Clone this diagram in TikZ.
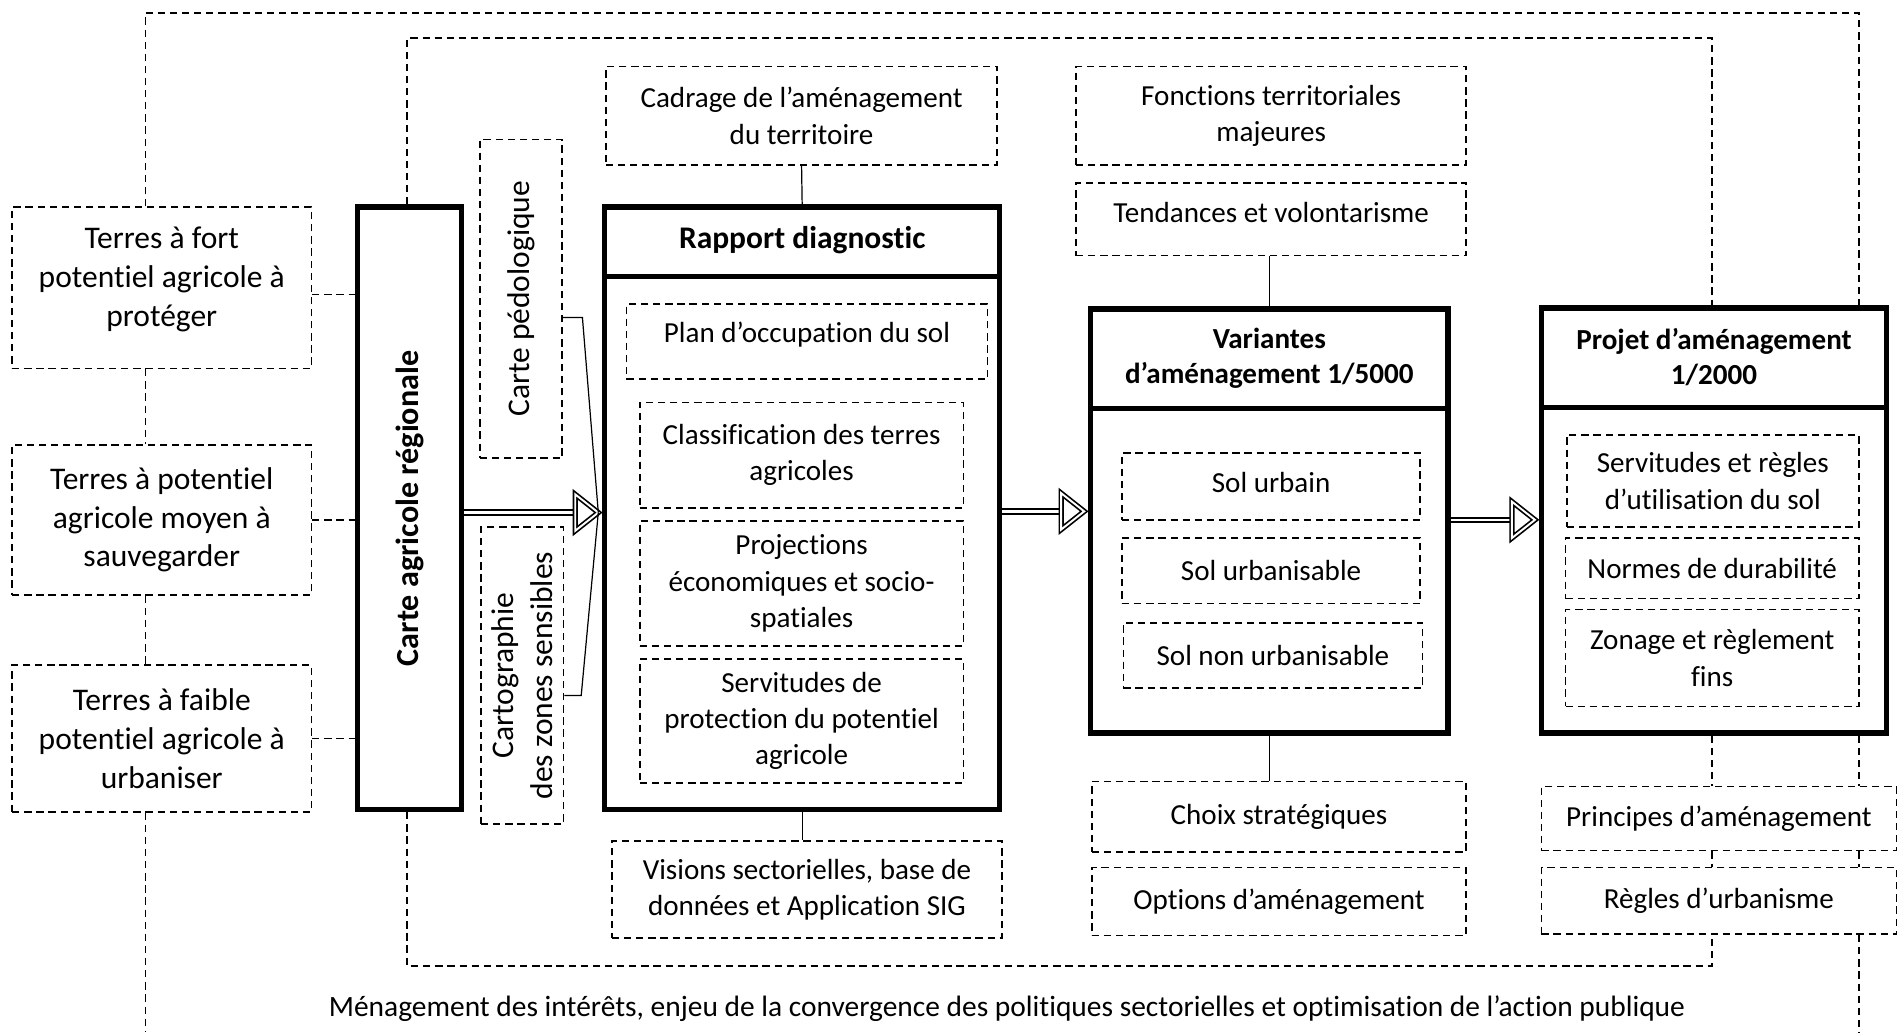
\documentclass[tikz,border=0pt]{standalone}
\usepackage{fontspec}
\setmainfont{Carlito}[Ligatures=NoCommon]
\usetikzlibrary{calc}
\begin{document}
\begin{tikzpicture}[x=1pt,y=-1pt,
  dbox/.style={draw, dash pattern=on 6pt off 4pt, line width=1.3pt, inner sep=0pt, align=center, font=\fontsize{24}{30}\selectfont},
  btext/.style={inner sep=0pt, align=center, font=\fontsize{24}{30}\selectfont},
  tbox/.style={draw, line width=4.5pt, inner sep=0pt},
  dline/.style={dash pattern=on 6pt off 4pt, line width=1.3pt},
  sline/.style={line width=1pt},
  divider/.style={line width=4pt},
  titletext/.style={align=center, inner sep=0pt, font=\fontsize{24}{29}\selectfont\bfseries},
  vtext/.style={align=center, inner sep=0pt, rotate=90, font=\fontsize{26}{32}\selectfont},
  shaft/.style={double, double distance=2.2pt, line width=1.6pt},
  ahead/.style={double, double distance=1.6pt, line width=1.4pt, line join=miter},
]
\fill[white] (0,0) rectangle (1568,852);
\useasboundingbox (0,0) rectangle (1568,852);

% left column
\node[dbox, minimum width=247, minimum height=133] (terresA) at (133.5,237.5) {};
\node[btext, font=\fontsize{26}{32}\selectfont] (terresAT) at ([yshift=7pt]terresA.center) {Terres à fort\\potentiel agricole à\\protéger};
\node[dbox, font=\fontsize{26}{32}\selectfont, minimum width=247, minimum height=124] (terresB) at (133.5,429) {Terres à potentiel\\agricole moyen à\\sauvegarder};
\node[dbox, font=\fontsize{26}{32}\selectfont, minimum width=247, minimum height=121] (terresC) at (133.5,609.5) {Terres à faible\\potentiel agricole à\\urbaniser};

% carte agricole
\node[tbox, minimum width=86, minimum height=497] (carte) at (338,419.5) {};
\node[vtext, font=\fontsize{26.5}{30}\selectfont\bfseries] (carteT) at (carte.center) {Carte agricole régionale};

\node[dbox, minimum width=68, minimum height=263] (pedo) at (430,246.5) {};
\node[vtext] (pedoT) at (pedo.center) {Carte pédologique};
\node[dbox, minimum width=68, minimum height=245] (carto) at (431,557.5) {};
\node[vtext] (cartoT) at (carto.center) {Cartographie\\des zones sensibles};

% rapport diagnostic column
\node[dbox, minimum width=323, minimum height=81] (cadrage) at (661.5,95.5) {Cadrage de l’aménagement\\du territoire};
\node[tbox, minimum width=326, minimum height=497] (rapport) at (662,419.5) {};
\coordinate (yR) at (0,228);
\draw[divider] (rapport.west |- yR) -- (rapport.east |- yR);
\node[titletext, font=\fontsize{26}{30}\selectfont\bfseries] (rapportT) at (662,198) {Rapport diagnostic};
\node[dbox, minimum width=298, minimum height=62] (plan) at (666,282) {};
\node[btext] (planT) at ([yshift=6pt]plan.center) {Plan d’occupation du sol};
\node[dbox, minimum width=267, minimum height=87] (classif) at (661.5,375.5) {Classification des terres\\agricoles};
\node[dbox, minimum width=267, minimum height=103] (projections) at (661.5,481.5) {Projections\\économiques et socio-\\spatiales};
\node[dbox, minimum width=267, minimum height=102] (servA) at (661.5,595) {Servitudes de\\protection du potentiel\\agricole};
\node[dbox, minimum width=322, minimum height=80] (visions) at (666,734) {Visions sectorielles, base de\\données et Application SIG};

% variantes column
\node[dbox, minimum width=322, minimum height=81] (fonctions) at (1049,95.5) {Fonctions territoriales\\majeures};
\node[dbox, minimum width=322, minimum height=60] (tend) at (1049,181) {};
\node[btext] (tendT) at ([yshift=6pt]tend.center) {Tendances et volontarisme};
\node[tbox, minimum width=295, minimum height=350] (variantes) at (1047.5,430) {};
\coordinate (yV) at (0,337);
\draw[divider] (variantes.west |- yV) -- (variantes.east |- yV);
\node[titletext] (variantesT) at (1047.5,296) {Variantes\\d’aménagement 1/5000};
\node[dbox, minimum width=246, minimum height=55] (solA) at (1049,401.5) {};
\node[btext] (solAT) at ([yshift=3pt]solA.center) {Sol urbain};
\node[dbox, minimum width=246, minimum height=54] (solB) at (1049,471) {Sol urbanisable};
\node[dbox, minimum width=247, minimum height=54] (solC) at (1050.5,541) {Sol non urbanisable};
\node[dbox, minimum width=309, minimum height=58] (choix) at (1055.5,674) {Choix stratégiques};
\node[dbox, minimum width=309, minimum height=56] (options) at (1055.5,744) {Options d’aménagement};

% projet column
\node[tbox, minimum width=285, minimum height=351] (projet) at (1414.5,429.5) {};
\coordinate (yP) at (0,336);
\draw[divider] (projet.west |- yP) -- (projet.east |- yP);
\node[titletext] (projetT) at (1414.5,295) {Projet d’aménagement\\1/2000};
\node[dbox, minimum width=241, minimum height=76] (servB) at (1413.5,397) {Servitudes et règles\\d’utilisation du sol};
\node[dbox, minimum width=242, minimum height=50] (normes) at (1413,469) {Normes de durabilité};
\node[dbox, minimum width=242, minimum height=80] (zonage) at (1413,543) {Zonage et règlement\\fins};
\node[dbox, minimum width=293, minimum height=53] (principes) at (1418.5,675.5) {Principes d’aménagement};
\node[dbox, minimum width=293, minimum height=55] (regles) at (1418.5,743.5) {Règles d’urbanisme};

% caption
\node[inner sep=0pt, font=\fontsize{24.3}{28}\selectfont] (caption) at (831,832) {Ménagement des intérêts, enjeu de la convergence des politiques sectorielles et optimisation de l’action publique};

% outer dashed loop
\coordinate (oL) at (120,10.5);
\coordinate (oR) at (1534,10.5);
\coordinate (oLB) at (120,852);
\coordinate (oRB) at (1534,852);
\draw[dline] (terresA.north -| oL) -- (oL) -- (oR) -- (projet.north -| oR);
\draw[dline] (terresA.south -| oL) -- (terresB.north -| oL);
\draw[dline] (terresB.south -| oL) -- (terresC.north -| oL);
\draw[dline] (terresC.south -| oL) -- (oLB);
\draw[dline] (projet.south -| oR) -- (principes.north -| oR);
\draw[dline] (principes.south -| oR) -- (regles.north -| oR);
\draw[dline] (regles.south -| oR) -- (oRB);

% inner dashed loop
\coordinate (iTL) at (336,31.5);
\coordinate (iTR) at (1413,31.5);
\coordinate (iBL) at (336,797);
\coordinate (iBR) at (1413,797);
\draw[dline] (carte.north -| iTL) -- (iTL) -- (iTR) -- (projet.north -| iTR);
\draw[dline] (carte.south -| iBL) -- (iBL) -- (iBR) -- (regles.south -| iBR);
\draw[dline] (projet.south -| iTR) -- (principes.north -| iTR);
\draw[dline] (principes.south -| iTR) -- (regles.north -| iTR);

% terres connectors
\draw[dline] ([yshift=-5.5pt]terresA.east) -- ([yshift=-5.5pt]terresA.east -| carte.west);
\draw[dline] (terresB.east) -- (terresB.east -| carte.west);
\draw[dline] (terresC.east) -- (terresC.east -| carte.west);

% solid connectors
\draw[sline] (cadrage.south) -- (rapport.north);
\draw[sline] (rapport.south) -- (rapport.south |- visions.north);
\draw[sline] (tend.south -| variantes.north) -- (variantes.north);
\draw[sline] (variantes.south) -- (variantes.south |- choix.north);

% big arrows
\coordinate (yA) at (0,423);
\coordinate (yB) at (0,422);
\coordinate (yC) at (0,429);
\coordinate (tA) at ($(rapport.west |- yA)+(-3,0)$);
\coordinate (tB) at ($(variantes.west |- yB)+(-3,0)$);
\coordinate (tC) at ($(projet.west |- yC)+(-3,0)$);
\draw[shaft] (carte.east |- yA) -- ($(tA)+(-19,0)$);
\draw[ahead] (tA) -- ++(-19,-15) -- ++(0,30) -- cycle;
\draw[shaft] (rapport.east |- yB) -- ($(tB)+(-19,0)$);
\draw[ahead] (tB) -- ++(-19,-15) -- ++(0,30) -- cycle;
\draw[shaft] (variantes.east |- yC) -- ($(tC)+(-19,0)$);
\draw[ahead] (tC) -- ++(-19,-15) -- ++(0,30) -- cycle;

% thin lines from side maps to first arrow
\draw[sline] ([yshift=-15.5pt]pedo.east) -- ++(16,0) -- (tA);
\draw[sline] ([yshift=-16.5pt]carto.east) -- ++(14,0) -- (tA);
\end{tikzpicture}
\end{document}
